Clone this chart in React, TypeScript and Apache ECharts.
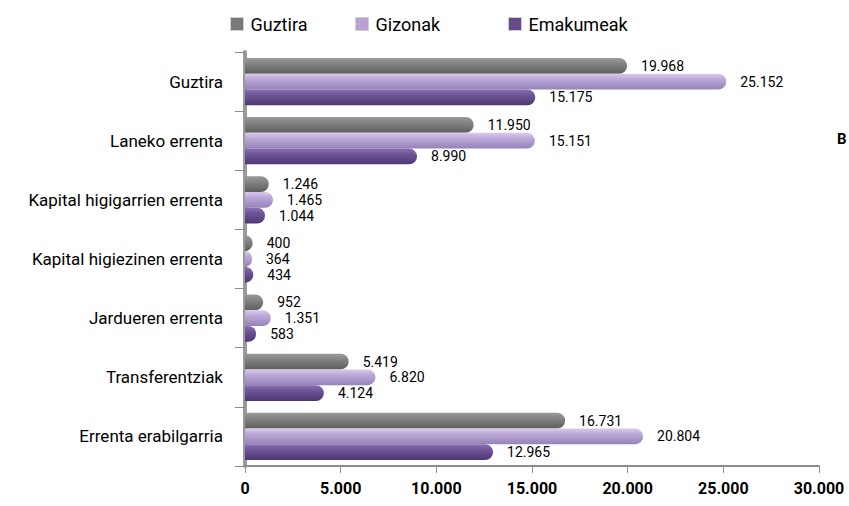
import React, { useEffect, useRef } from "react";
import * as echarts from "echarts";

const categories = [
  "Guztira",
  "Laneko errenta",
  "Kapital higigarrien errenta",
  "Kapital higiezinen errenta",
  "Jardueren errenta",
  "Transferentziak",
  "Errenta erabilgarria",
];
const guztira = [19968, 11950, 1246, 400, 952, 5419, 16731];
const gizonak = [25152, 15151, 1465, 364, 1351, 6820, 20804];
const emakumeak = [15175, 8990, 1044, 434, 583, 4124, 12965];
const seriesNames = ["Guztira", "Gizonak", "Emakumeak"];

const FONT = "Roboto, 'Liberation Sans', sans-serif";

const fmt = (v: number) => String(v).replace(/\B(?=(\d{3})+(?!\d))/g, ".");

const grad = (top: string, mid: string, bot: string) =>
  new echarts.graphic.LinearGradient(0, 0, 0, 1, [
    { offset: 0, color: top },
    { offset: 0.35, color: mid },
    { offset: 1, color: bot },
  ]);

export default function App() {
  const ref = useRef<HTMLDivElement>(null);
  useEffect(() => {
    if (!ref.current) return;
    document.body.style.margin = "0";
    document.body.style.overflow = "hidden";
    const chart = echarts.init(ref.current, undefined, { renderer: "svg" });
    const colors = [
      grad("#9a9a9a", "#848484", "#5e5e5e"),
      grad("#d8cbeb", "#bba8d8", "#9583b8"),
      grad("#8a70b3", "#6f5598", "#4d3772"),
    ];
    const legendColors = ["#7a7a7a", "#b6a3d4", "#654a8e"];
    const legendLefts = [225, 350, 503];
    const data = [guztira, gizonak, emakumeak];
    chart.setOption({
      animation: false,
      legend: seriesNames.map((n, i) => ({
        top: 10,
        left: legendLefts[i],
        itemGap: 0,
        itemWidth: 13,
        itemHeight: 13,
        icon: "rect",
        textStyle: { fontFamily: FONT, fontSize: 18, color: "#000", padding: [0, 0, 0, 2] },
        data: [
          {
            name: n,
            itemStyle: { color: legendColors[i], borderColor: "#d0d0d0", borderWidth: 1 },
          },
        ],
      })),
      grid: { left: 245, right: 30, top: 52, bottom: 40, containLabel: false },
      xAxis: {
        type: "value",
        min: 0,
        max: 30000,
        interval: 5000,
        splitLine: { show: false },
        axisLine: { show: true, lineStyle: { color: "#8c8c8c", width: 2 } },
        axisTick: { show: true, length: 7, lineStyle: { color: "#8c8c8c" } },
        axisLabel: {
          formatter: (v: number) => fmt(v),
          fontFamily: FONT,
          fontSize: 16,
          fontWeight: "bold",
          color: "#000",
          margin: 14,
        },
      },
      yAxis: {
        type: "category",
        data: categories,
        inverse: true,
        axisLine: { show: true, lineStyle: { color: "#9a9a9a", width: 4 } },
        axisTick: { show: true, length: 10, lineStyle: { color: "#8c8c8c", width: 1 } },
        axisLabel: {
          fontFamily: FONT,
          fontSize: 17,
          color: "#000",
          margin: 22,
        },
      },
      series: seriesNames.map((n, i) => ({
        name: n,
        type: "bar",
        data: data[i],
        barGap: "0%",
        barCategoryGap: "20%",
        itemStyle: { color: colors[i], borderRadius: [0, 8, 8, 0] },
        label: {
          show: true,
          position: "right",
          distance: 14,
          formatter: (p: any) => fmt(p.value),
          fontFamily: FONT,
          fontSize: 14,
          lineHeight: 14,
          color: "#000",
        },
      })),
      graphic: [
        {
          type: "text",
          x: 837,
          y: 131,
          style: { text: "B", font: "bold 15px " + FONT, fill: "#000" },
        },
      ],
    });
    return () => chart.dispose();
  }, []);
  return <div ref={ref} style={{ width: 849, height: 506, overflow: "hidden" }} />;
}
